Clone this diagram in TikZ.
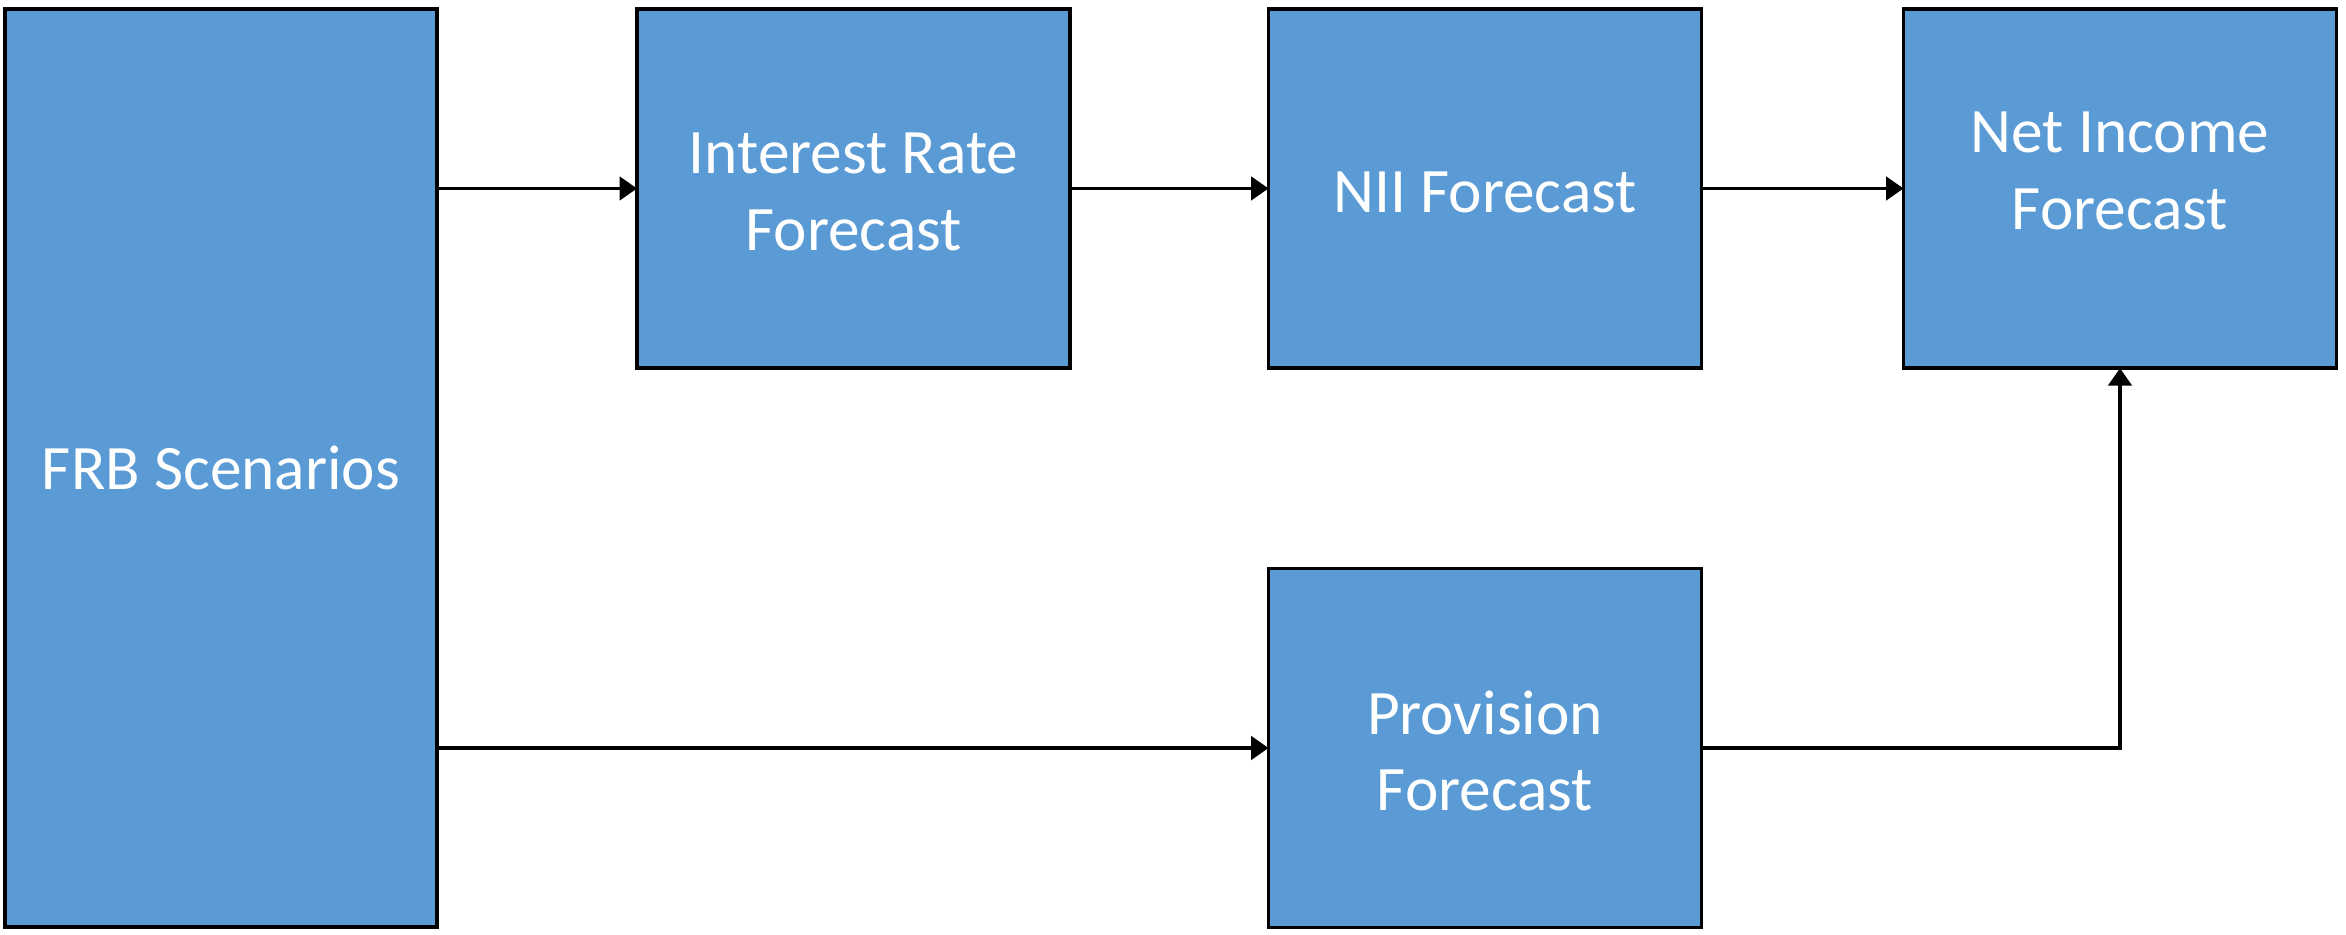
\documentclass[tikz,border=0pt]{standalone}
\usepackage{fontspec}
\setmainfont{Carlito}
\usetikzlibrary{arrows.meta}
\definecolor{boxblue}{HTML}{5B9BD5}
\begin{document}
\begin{tikzpicture}[x=0.3pt,y=-0.3pt,
  box/.style={draw=black,line width=1.15pt,fill=boxblue,inner sep=0pt,outer sep=0pt,
    text=white,align=center,font=\fontsize{19}{23}\selectfont},
  txt/.style={text=white,align=center,font=\fontsize{19}{23}\selectfont,inner sep=0pt},
  conn/.style={line width=1.0pt,-{Triangle[length=5.2pt,width=7pt]}}]
\useasboundingbox (0,0) rectangle (2346,935);
\node[box,minimum width=432.5*0.3pt,minimum height=918.5*0.3pt] (frb) at (221,468) {\raisebox{0pt}{FRB Scenarios}};
\node[box,minimum width=433*0.3pt,minimum height=359.5*0.3pt] (irf) at (853.5,188.5) {};
\node[txt] (irftxt) at (853.5,192) {Interest Rate\\Forecast};
\node[box,minimum width=433*0.3pt,minimum height=359.5*0.3pt] (nii) at (1485,188.5) {};
\node[txt] (niitxt) at (1485,192) {NII Forecast};
\node[box,minimum width=433*0.3pt,minimum height=359.5*0.3pt] (net) at (2120,188.5) {};
\node[txt] (nettxt) at (2120,171) {Net Income\\Forecast};
\node[box,minimum width=433*0.3pt,minimum height=359*0.3pt] (prov) at (1485,748) {};
\node[txt] (provtxt) at (1485,751) {Provision\\Forecast};
\draw[conn] (frb.east |- irf.west) -- (irf.west);
\draw[conn] (irf.east) -- (nii.west);
\draw[conn] (nii.east) -- (net.west);
\draw[conn] (frb.east |- prov.west) -- (prov.west);
\draw[conn] (prov.east) -| (net.south);
\end{tikzpicture}
\end{document}
